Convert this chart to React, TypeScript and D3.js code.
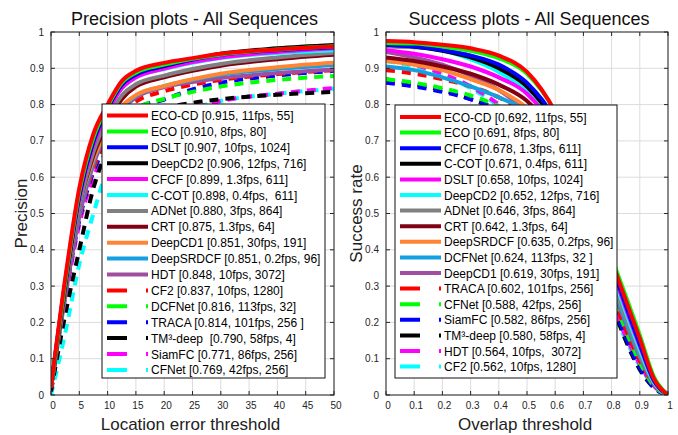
import React, { useEffect, useRef } from "react";
import * as d3 from "d3";

// precision plot (location error threshold, pixels)
const precThresholds = [0, 2.5, 5, 7.5, 10, 12.5, 15, 20, 25, 30, 40, 50];
const precXTicks = [0, 5, 10, 15, 20, 25, 30, 35, 40, 45, 50];
const precLabels = [
  "ECO-CD [0.915, 11fps, 55]",
  "ECO [0.910, 8fps, 80]",
  "DSLT [0.907, 10fps, 1024]",
  "DeepCD2 [0.906, 12fps, 716]",
  "CFCF [0.899, 1.3fps, 611]",
  "C-COT [0.898, 0.4fps,  611]",
  "ADNet [0.880, 3fps, 864]",
  "CRT [0.875, 1.3fps, 64]",
  "DeepCD1 [0.851, 30fps, 191]",
  "DeepSRDCF [0.851, 0.2fps, 96]",
  "HDT [0.848, 10fps, 3072]",
  "CF2 [0.837, 10fps, 1280]",
  "DCFNet [0.816, 113fps, 32]",
  "TRACA [0.814, 101fps, 256 ]",
  "TM³-deep  [0.790, 58fps, 4]",
  "SiamFC [0.771, 86fps, 256]",
  "CFNet [0.769, 42fps, 256]",
];
const precValues = [
  [0.02, 0.32, 0.57, 0.72, 0.8, 0.865, 0.893, 0.915, 0.928, 0.94, 0.952, 0.96],
  [0.02, 0.31, 0.56, 0.71, 0.795, 0.86, 0.888, 0.91, 0.926, 0.938, 0.952, 0.961],
  [0.02, 0.31, 0.55, 0.7, 0.79, 0.855, 0.883, 0.907, 0.924, 0.937, 0.95, 0.958],
  [0.02, 0.3, 0.55, 0.7, 0.79, 0.855, 0.883, 0.906, 0.925, 0.94, 0.955, 0.964],
  [0.02, 0.3, 0.54, 0.69, 0.78, 0.845, 0.875, 0.899, 0.917, 0.93, 0.945, 0.955],
  [0.02, 0.31, 0.55, 0.7, 0.785, 0.845, 0.875, 0.898, 0.915, 0.928, 0.942, 0.95],
  [0.02, 0.29, 0.52, 0.67, 0.76, 0.825, 0.856, 0.88, 0.898, 0.912, 0.93, 0.942],
  [0.02, 0.29, 0.52, 0.66, 0.75, 0.815, 0.85, 0.875, 0.893, 0.907, 0.925, 0.937],
  [0.02, 0.3, 0.52, 0.65, 0.735, 0.795, 0.826, 0.851, 0.87, 0.885, 0.903, 0.915],
  [0.02, 0.29, 0.51, 0.645, 0.735, 0.79, 0.824, 0.851, 0.868, 0.882, 0.898, 0.909],
  [0.02, 0.27, 0.49, 0.635, 0.725, 0.785, 0.82, 0.848, 0.862, 0.873, 0.887, 0.897],
  [0.02, 0.28, 0.49, 0.625, 0.715, 0.775, 0.808, 0.837, 0.855, 0.868, 0.884, 0.895],
  [0.02, 0.28, 0.49, 0.625, 0.705, 0.755, 0.788, 0.816, 0.835, 0.85, 0.868, 0.879],
  [0.02, 0.27, 0.48, 0.615, 0.695, 0.755, 0.788, 0.814, 0.842, 0.86, 0.88, 0.893],
  [0.01, 0.22, 0.4, 0.57, 0.675, 0.735, 0.763, 0.79, 0.805, 0.815, 0.827, 0.835],
  [0.01, 0.26, 0.47, 0.6, 0.675, 0.725, 0.752, 0.771, 0.79, 0.81, 0.83, 0.846],
  [0.0, 0.17, 0.36, 0.5, 0.625, 0.705, 0.742, 0.769, 0.79, 0.81, 0.83, 0.844],
];

// success plot (overlap threshold)
const succThresholds = [0, 0.1, 0.2, 0.3, 0.4, 0.5, 0.6, 0.7, 0.8, 0.9, 0.95, 1];
const succXTicks = [0, 0.1, 0.2, 0.3, 0.4, 0.5, 0.6, 0.7, 0.8, 0.9, 1];
const succLabels = [
  "ECO-CD [0.692, 11fps, 55]",
  "ECO [0.691, 8fps, 80]",
  "CFCF [0.678, 1.3fps, 611]",
  "C-COT [0.671, 0.4fps, 611]",
  "DSLT [0.658, 10fps, 1024]",
  "DeepCD2 [0.652, 12fps, 716]",
  "ADNet [0.646, 3fps, 864]",
  "CRT [0.642, 1.3fps, 64]",
  "DeepSRDCF [0.635, 0.2fps, 96]",
  "DCFNet [0.624, 113fps, 32 ]",
  "DeepCD1 [0.619, 30fps, 191]",
  "TRACA [0.602, 101fps, 256]",
  "CFNet [0.588, 42fps, 256]",
  "SiamFC [0.582, 86fps, 256]",
  "TM³-deep [0.580, 58fps, 4]",
  "HDT [0.564, 10fps,  3072]",
  "CF2 [0.562, 10fps, 1280]",
];
const succValues = [
  [0.975, 0.972, 0.965, 0.955, 0.935, 0.89, 0.78, 0.6, 0.37, 0.155, 0.045, 0],
  [0.97, 0.968, 0.96, 0.948, 0.928, 0.885, 0.78, 0.6, 0.38, 0.165, 0.05, 0],
  [0.965, 0.96, 0.95, 0.935, 0.91, 0.86, 0.76, 0.59, 0.36, 0.14, 0.04, 0],
  [0.965, 0.96, 0.948, 0.93, 0.9, 0.85, 0.75, 0.58, 0.36, 0.145, 0.045, 0],
  [0.95, 0.94, 0.925, 0.905, 0.875, 0.83, 0.73, 0.57, 0.35, 0.135, 0.04, 0],
  [0.975, 0.965, 0.95, 0.925, 0.89, 0.835, 0.735, 0.56, 0.34, 0.125, 0.035, 0],
  [0.96, 0.958, 0.95, 0.935, 0.905, 0.85, 0.75, 0.56, 0.33, 0.115, 0.035, 0],
  [0.93, 0.92, 0.905, 0.885, 0.855, 0.81, 0.72, 0.56, 0.34, 0.14, 0.045, 0],
  [0.92, 0.91, 0.895, 0.87, 0.84, 0.79, 0.7, 0.54, 0.32, 0.12, 0.035, 0],
  [0.905, 0.895, 0.875, 0.85, 0.82, 0.78, 0.69, 0.54, 0.31, 0.11, 0.035, 0],
  [0.945, 0.93, 0.91, 0.88, 0.84, 0.78, 0.68, 0.52, 0.3, 0.105, 0.03, 0],
  [0.895, 0.885, 0.87, 0.85, 0.82, 0.77, 0.67, 0.5, 0.28, 0.095, 0.03, 0],
  [0.87, 0.86, 0.845, 0.825, 0.795, 0.75, 0.66, 0.5, 0.28, 0.09, 0.025, 0],
  [0.86, 0.85, 0.835, 0.815, 0.785, 0.74, 0.65, 0.49, 0.26, 0.075, 0.02, 0],
  [0.87, 0.855, 0.84, 0.815, 0.785, 0.74, 0.65, 0.48, 0.25, 0.07, 0.02, 0],
  [0.925, 0.91, 0.885, 0.85, 0.8, 0.73, 0.62, 0.45, 0.25, 0.085, 0.025, 0],
  [0.92, 0.905, 0.88, 0.845, 0.795, 0.725, 0.615, 0.445, 0.24, 0.08, 0.025, 0],
];

const yTicks = [0, 0.1, 0.2, 0.3, 0.4, 0.5, 0.6, 0.7, 0.8, 0.9, 1];

// line style by rank
const rankColors = [
  "#ff0000", "#00ff00", "#0000ff", "#000000", "#ff00ff", "#00ffff",
  "#808080", "#800014", "#ff8433", "#14a0e0", "#a04fa0",
  "#ff0000", "#00ff00", "#0000ff", "#000000", "#ff00ff", "#00ffff",
];

const FONT = "'Liberation Sans', Arial, sans-serif";
const AX = "#262626";

const drawPanel = (svg, cfg) => {
  const top = 32, bottom = 395;
  const x = d3.scaleLinear().domain(cfg.xDomain).range([cfg.left, cfg.right]);
  const y = d3.scaleLinear().domain([0, 1]).range([bottom, top]);
  const g = svg.append("g");

  // grid
  g.selectAll(".gx").data(cfg.xTicks).enter().append("line")
    .attr("x1", (d) => x(d)).attr("x2", (d) => x(d))
    .attr("y1", top).attr("y2", bottom)
    .attr("stroke", "#dcdcdc").attr("stroke-width", 1);
  g.selectAll(".gy").data(yTicks).enter().append("line")
    .attr("x1", cfg.left).attr("x2", cfg.right)
    .attr("y1", (d) => y(d)).attr("y2", (d) => y(d))
    .attr("stroke", "#dcdcdc").attr("stroke-width", 1);

  const clipId = "clip-" + cfg.id;
  svg.append("clipPath").attr("id", clipId)
    .append("rect").attr("x", cfg.left).attr("y", top)
    .attr("width", cfg.right - cfg.left).attr("height", bottom - top);

  const line = d3.line()
    .x((d) => x(d[0]))
    .y((d) => y(d[1]))
    .curve(d3.curveMonotoneX);

  const curves = g.append("g").attr("clip-path", `url(#${clipId})`);
  for (let i = cfg.values.length - 1; i >= 0; i--) {
    const pts = cfg.thresholds.map((t, k) => [t, cfg.values[i][k]]);
    curves.append("path")
      .attr("d", line(pts))
      .attr("fill", "none")
      .attr("stroke", rankColors[i])
      .attr("stroke-width", 4)
      .attr("stroke-dasharray", i >= 11 ? "9,7" : null);
  }

  // axes box + inward ticks
  g.append("rect")
    .attr("x", cfg.left).attr("y", top)
    .attr("width", cfg.right - cfg.left).attr("height", bottom - top)
    .attr("fill", "none").attr("stroke", AX).attr("stroke-width", 1);
  cfg.xTicks.forEach((t) => {
    g.append("line").attr("x1", x(t)).attr("x2", x(t)).attr("y1", bottom).attr("y2", bottom - 4).attr("stroke", AX);
    g.append("line").attr("x1", x(t)).attr("x2", x(t)).attr("y1", top).attr("y2", top + 4).attr("stroke", AX);
    g.append("text").attr("x", x(t) + 2).attr("y", 409)
      .attr("text-anchor", "middle").attr("font-size", 10).attr("fill", AX)
      .attr("font-family", FONT).text(t);
  });
  yTicks.forEach((t) => {
    g.append("line").attr("x1", cfg.left).attr("x2", cfg.left + 4).attr("y1", y(t)).attr("y2", y(t)).attr("stroke", AX);
    g.append("line").attr("x1", cfg.right).attr("x2", cfg.right - 4).attr("y1", y(t)).attr("y2", y(t)).attr("stroke", AX);
    g.append("text").attr("x", cfg.left - 7).attr("y", y(t) + 3.5)
      .attr("text-anchor", "end").attr("font-size", 10).attr("fill", AX)
      .attr("font-family", FONT).text(t);
  });

  // title and axis labels
  g.append("text").attr("x", (cfg.left + cfg.right) / 2 + 2).attr("y", 25)
    .attr("text-anchor", "middle").attr("font-size", 18).attr("fill", "#111")
    .attr("font-family", FONT).text(cfg.title);
  g.append("text").attr("x", (cfg.left + cfg.right) / 2 - 2).attr("y", 430)
    .attr("text-anchor", "middle").attr("font-size", 17).attr("fill", "#222")
    .attr("font-family", FONT).text(cfg.xLabel);
  g.append("text")
    .attr("transform", `translate(${cfg.left - 24},${(top + bottom) / 2}) rotate(-90)`)
    .attr("text-anchor", "middle").attr("font-size", 17).attr("fill", "#222")
    .attr("font-family", FONT).text(cfg.yLabel);

  // legend
  const lg = g.append("g");
  const lb = cfg.legend;
  lg.append("rect").attr("x", lb.x).attr("y", lb.y).attr("width", lb.w).attr("height", lb.h)
    .attr("fill", "#fff").attr("stroke", "#111").attr("stroke-width", 1);
  cfg.labels.forEach((label, i) => {
    const cy = lb.row0 + i * lb.step;
    lg.append("line")
      .attr("x1", lb.x + 5).attr("x2", lb.x + 46)
      .attr("y1", cy).attr("y2", cy)
      .attr("stroke", rankColors[i]).attr("stroke-width", 4)
      .attr("stroke-dasharray", i >= 11 ? "20,19" : null);
    lg.append("text").attr("x", lb.x + 49).attr("y", cy + 4.5)
      .attr("font-size", 12).attr("fill", "#000").attr("font-family", FONT)
      .style("white-space", "pre").text(label);
  });
};

const App = () => {
  const chartRef = useRef(null);

  useEffect(() => {
    const svg = d3.select(chartRef.current);
    svg.selectAll("*").remove();
    svg.append("rect").attr("width", 678).attr("height", 435).attr("fill", "#fff");

    drawPanel(svg, {
      id: "prec", left: 51, right: 334, xDomain: [0, 50],
      xTicks: precXTicks, thresholds: precThresholds, values: precValues, labels: precLabels,
      title: "Precision plots - All Sequences", xLabel: "Location error threshold", yLabel: "Precision",
      legend: { x: 102, y: 104, w: 223, h: 274, row0: 115.5, step: 15.9 },
    });
    drawPanel(svg, {
      id: "succ", left: 386, right: 668, xDomain: [0, 1],
      xTicks: succXTicks, thresholds: succThresholds, values: succValues, labels: succLabels,
      title: "Success plots - All Sequences", xLabel: "Overlap threshold", yLabel: "Success rate",
      legend: { x: 395, y: 105, w: 222, h: 273, row0: 117, step: 15.6 },
    });
  }, []);

  return (
    <svg ref={chartRef} width={678} height={435}
      style={{ position: "absolute", left: 0, top: 0 }}></svg>
  );
};

export default App;
